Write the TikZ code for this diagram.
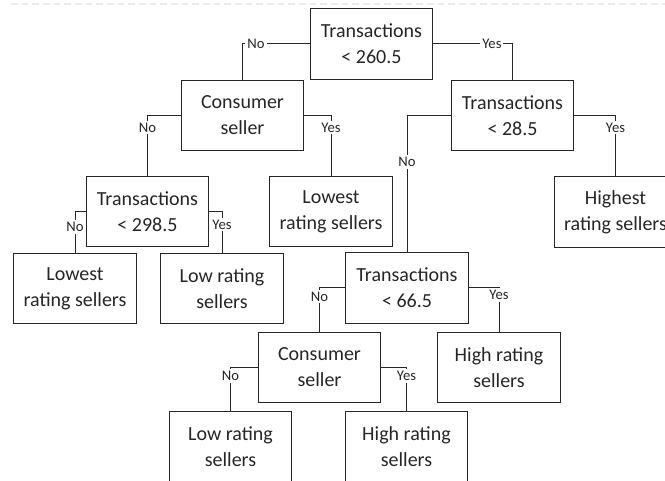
\documentclass[tikz,border=0pt]{standalone}
\usepackage{fontspec}
\setmainfont{Carlito}
\usetikzlibrary{positioning}

\begin{document}
\begin{tikzpicture}[
    x=0.75pt, y=-0.75pt,
    split/.style={rectangle, draw=black!85, line width=0.75pt, text=black!85, minimum width=92pt, minimum height=53pt, align=center, font=\fontsize{15}{19.5}\selectfont},
    leaf/.style={split},
    link/.style={draw=black!85, line width=0.75pt},
    lbl/.style={fill=white, inner sep=1.5pt, text=black!85, font=\fontsize{11}{12}\selectfont}
]
\clip (0,0) rectangle (665,481);

% Screen edge
\draw[black!8, line width=1.5pt, dash pattern=on 5pt off 3pt] (11,4.5) -- (665,4.5);

% Splits
\node[split] (root) at (371.5, 44) {Transactions\\< 260.5};
\node[split] (cons1) at (242.5, 115.5) {Consumer\\seller};
\node[split] (trans28) at (512.5, 115.5) {Transactions\\< 28.5};
\node[split] (trans298) at (147.5, 211.5) {Transactions\\< 298.5};
\node[split] (trans66) at (407, 288) {Transactions\\< 66.5};
\node[split] (cons2) at (319.5, 367.5) {Consumer\\seller};

% Leaves
\node[leaf] (lowestmid) at (331, 211.5) {Lowest\\rating sellers};
\node[leaf] (highest) at (615.5, 212) {Highest\\rating sellers};
\node[leaf] (lowestleft) at (75, 288.5) {Lowest\\rating sellers};
\node[leaf] (lowleft) at (222, 288.5) {Low rating\\sellers};
\node[leaf] (highright) at (499, 367.5) {High rating\\sellers};
\node[leaf] (lowbot) at (230.5, 447) {Low rating\\sellers};
\node[leaf] (highbot) at (406.5, 447) {High rating\\sellers};

% Branches
\draw[link] (root.west) -| node[lbl, pos=0.4] {No} (cons1.north);
\draw[link] (root.east) -| node[lbl, pos=0.37] {Yes} (trans28.north);

\draw[link] (cons1.west) -| node[lbl, pos=0.6] {No} (trans298.north);
\draw[link] (cons1.east) -| node[lbl, pos=0.6] {Yes} (lowestmid.north);

\draw[link] (trans298.west) -| node[lbl, pos=0.69] {No} (lowestleft.north);
\draw[link] (trans298.east) -| node[lbl, pos=0.66] {Yes} (lowleft.north);

\draw[link] (trans28.west) -| node[lbl, pos=0.67] {No} (trans66.north);
\draw[link] (trans28.east) -| node[lbl, pos=0.6] {Yes} (highest.north);

\draw[link] (trans66.west) -| node[lbl, pos=0.6] {No} (cons2.north);
\draw[link] (trans66.east) -| node[lbl, pos=0.58] {Yes} (highright.north);

\draw[link] (cons2.west) -| node[lbl, pos=0.6] {No} (lowbot.north);
\draw[link] (cons2.east) -| node[lbl, pos=0.6] {Yes} (highbot.north);

\end{tikzpicture}
\end{document}
